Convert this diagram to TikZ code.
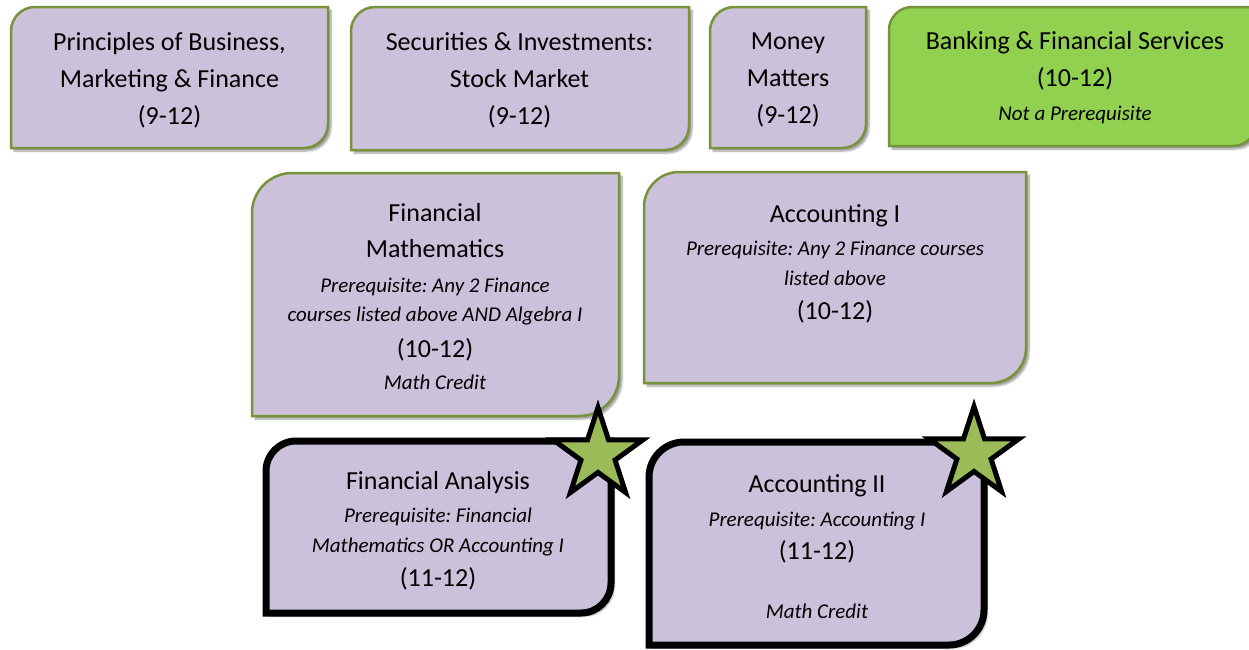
\documentclass[tikz,border=0pt]{standalone}
\usepackage{fontspec}
\setmainfont{Carlito}
\usetikzlibrary{shapes.geometric,shadows.blur}
\definecolor{lavender}{HTML}{CCC1DA}
\definecolor{olivegreen}{HTML}{77933C}
\definecolor{limegreen}{HTML}{92D050}
\definecolor{stargreen}{HTML}{9BBB59}
\frenchspacing
\newcommand{\pre}[1]{{\itshape\fontsize{21}{30}\selectfont #1}}
% box with round top-left and bottom-right corners: [style]{x1}{y1}{x2}{y2}{radius}
\newcommand{\diagbox}[6][]{%
	\draw[#1] (#2,#5) -- (#2,#3+#6) .. controls (#2,#3+0.45*#6) and (#2+0.45*#6,#3) .. (#2+#6,#3)
	-- (#4,#3) -- (#4,#5-#6) .. controls (#4,#5-0.45*#6) and (#4-0.45*#6,#5) .. (#4-#6,#5) -- cycle;}
\begin{document}
\begin{tikzpicture}[x=1pt,y=-1pt,
	course/.style={draw=olivegreen,line width=2.5pt,fill=lavender,
		blur shadow={shadow xshift=3pt,shadow yshift=-3pt,shadow blur steps=6}},
	capstone/.style={course,draw=black,line width=7pt},
	coursetext/.style={align=center,inner sep=0pt,font=\fontsize{26}{37}\selectfont},
	starmark/.style={star,star points=5,star point ratio=2.618,minimum size=94pt,
		inner sep=0pt,draw=black,line width=5pt,fill=stargreen}]
	\useasboundingbox (0,0) rectangle (1249,649);
	% first row: 9-12 courses
	\diagbox[course]{11}{7}{328}{148}{24}
	\diagbox[course]{351}{7}{689}{150}{24}
	\diagbox[course]{710}{7}{866}{148}{24}
	\diagbox[course,fill=limegreen]{889}{7}{1256}{146}{23}
	\node[coursetext] (business) at (169.5,80) {Principles of Business,\\Marketing \& Finance\\(9-12)};
	\node[coursetext] (securities) at (519.5,80) {Securities \& Investments:\\Stock Market\\(9-12)};
	\node[coursetext] (money) at (788,80) {Money\\Matters\\(9-12)};
	\node[coursetext] (banking) at (1075,78) {Banking \& Financial Services\\(10-12)\\[-3pt]\pre{Not a Prerequisite}};
	% second row
	\diagbox[course]{252}{173}{619}{416}{40}
	\diagbox[course]{644}{172}{1026}{383}{35}
	\node[coursetext] (finmath) at (435,297) {Financial\\[-1pt]Mathematics\\[-2pt]\pre{Prerequisite: Any 2 Finance}\\[-8pt]\pre{courses listed above AND Algebra I}\\[-1pt](10-12)\\[-5pt]\pre{Math Credit}};
	\node[coursetext] (accounting1) at (835,264) {Accounting I\\[-4pt]\pre{Prerequisite: Any 2 Finance courses}\\[-7pt]\pre{listed above}\\[-3pt](10-12)};
	% third row: starred courses
	\diagbox[capstone]{266}{441}{611}{613}{30}
	\diagbox[capstone]{649}{442}{984}{645}{35}
	\node[coursetext] (analysis) at (438,531) {Financial Analysis\\[-4pt]\pre{Prerequisite: Financial}\\[-7pt]\pre{Mathematics OR Accounting I}\\[-3pt](11-12)};
	\node[coursetext] (accounting2) at (817,547) {Accounting II\\[-3pt]\pre{Prerequisite: Accounting I}\\[-4pt](11-12)\\[22pt]\pre{Math Credit}};
	%draw stars
	\node[starmark] (analysis-star) at (598,454.5) {};
	\node[starmark] (accounting2-star) at (974,453.5) {};
\end{tikzpicture}
\end{document}
